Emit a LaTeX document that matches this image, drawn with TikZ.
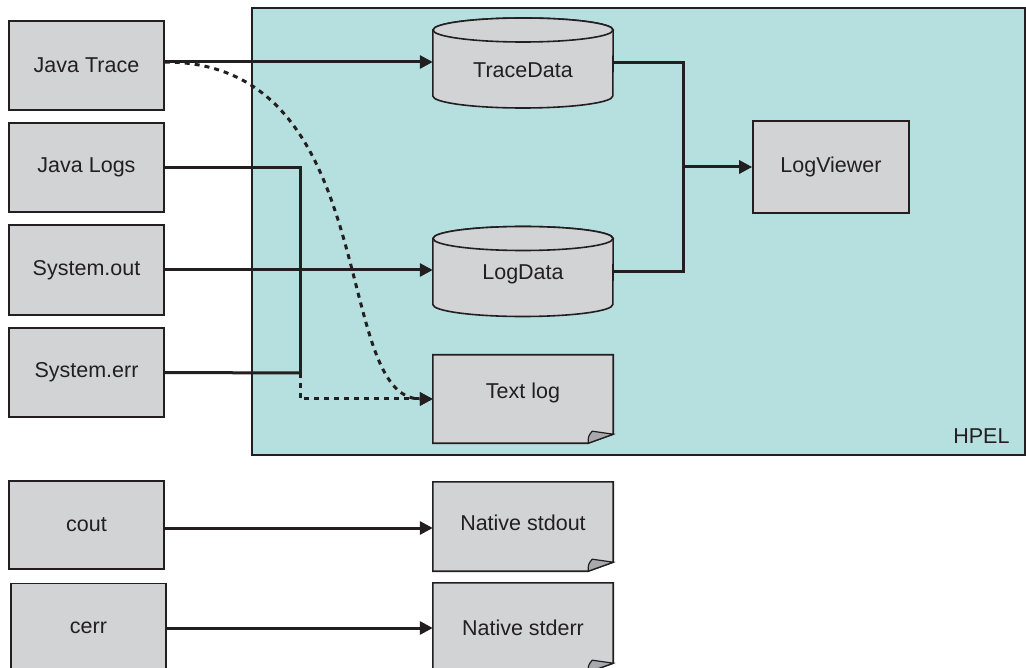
\documentclass[tikz,border=0pt]{standalone}
\usepackage{fontspec}
\setmainfont{Liberation Sans}
\usetikzlibrary{arrows.meta}
\definecolor{boxgray}{HTML}{D1D3D4}
\definecolor{foldgray}{HTML}{A7A9AC}
\definecolor{tealbg}{HTML}{B6DFDF}
\definecolor{ink}{HTML}{231F20}
\tikzset{
  lbl/.style={font=\fontsize{21.5}{24}\selectfont, text=ink},
  graybox/.style={lbl, draw=ink, fill=boxgray, line width=1.6pt, inner sep=0pt,
    minimum width=155pt, minimum height=89pt},
  holder/.style={lbl, inner sep=0pt, minimum width=180pt},
  wire/.style={draw=ink, line width=3pt},
  conn/.style={wire, -{Triangle[length=13pt,width=13pt]}},
  dashconn/.style={conn, dash pattern=on 5pt off 5pt},
  shapeline/.style={draw=ink, line width=1.6pt, fill=boxgray},
}
\newcommand\mycyl[1]{%
  \path[shapeline] ([yshift=33pt]#1.west) -- ([yshift=-33pt]#1.west)
     arc[start angle=180, end angle=0, x radius=90, y radius=12]
     -- ([yshift=33pt]#1.east)
     arc[start angle=0, end angle=-180, x radius=90, y radius=12] -- cycle;
  \path[shapeline] ([yshift=33pt]#1.center) ellipse [x radius=90, y radius=12];
}
\newcommand\mydoc[1]{%
  \path[shapeline] (#1.north west) -- (#1.north east) -- ([yshift=9pt]#1.south east)
     -- ([xshift=-25pt]#1.south east) -- (#1.south west) -- cycle;
  \path[shapeline, fill=foldgray, line width=1.2pt] ([xshift=-25pt]#1.south east)
     .. controls ([xshift=-25pt,yshift=7pt]#1.south east) .. ([xshift=-21pt,yshift=12pt]#1.south east)
     -- ([yshift=9pt]#1.south east) -- cycle;
}
\begin{document}
\begin{tikzpicture}[x=1pt,y=-1pt]
\useasboundingbox (0,0) rectangle (1026,668);
\clip (0,0) rectangle (1026,668);
\fill[white] (0,0) rectangle (1026,668);

% HPEL container
\node[draw=ink, fill=tealbg, line width=2.8pt, inner sep=0pt,
      minimum width=773pt, minimum height=447pt] (hpel) at (638.5,231.5) {};
\node[lbl] (hpellbl) at ([xshift=-45pt,yshift=20pt]hpel.south east) {HPEL};

% left sources
\node[graybox] (jt) at (86.5,65.5) {Java Trace};
\node[graybox] (jl) at (86.5,167.5) {Java Logs};
\node[graybox, minimum height=90pt] (so) at (86.5,270) {System.out};
\node[graybox] (se) at (86.5,372.5) {System.err};
\node[graybox, minimum height=88pt] (cout) at (86.5,525) {cout};
\node[graybox] (cerr) at (88.5,628) {cerr};

% cylinders
\node[holder, minimum height=90pt] (td) at (523,63) {};
\mycyl{td}
\node[lbl, yshift=-7pt] at (td.center) {TraceData};
\node[holder, minimum height=91pt] (ld) at (523,271.5) {};
\mycyl{ld}
\node[lbl, yshift=-2.5pt] at (ld.center) {LogData};

% documents
\node[holder, minimum height=88pt] (tl) at (523,399) {};
\mydoc{tl}
\node[lbl, yshift=6pt] at (tl.center) {Text log};
\node[holder, minimum height=89pt] (nso) at (523,526.5) {};
\mydoc{nso}
\node[lbl, yshift=3.5pt] at (nso.center) {Native stdout};
\node[holder, minimum height=89pt] (nse) at (523,627.5) {};
\mydoc{nse}
\node[lbl] at (nse.center) {Native stderr};

% viewer
\node[graybox, minimum width=156pt, minimum height=92pt] (lv) at (831,167) {LogViewer};

% junctions
\coordinate (j1) at (300,373);
\coordinate (m) at (683,167);

% connectors
\draw[conn] ([yshift=3.5pt]jt.east) -- ([yshift=3.5pt]jt.east -| td.west);
\draw[dashconn] ([yshift=3.5pt]jt.east) .. controls (385,62) and (330,399) .. (tl.west);
\draw[wire] (jl.east) -| (j1);
\draw[wire] (se.east) -- (j1);
\draw[dashconn] (j1) |- (tl.west);
\draw[conn] (so.east) -- (so.east -| ld.west);
\draw[wire] (td.east) -| (m);
\draw[wire] (ld.east) -| (m);
\draw[conn] (m) -- (lv.west);
\draw[conn] ([yshift=-3pt]cout.east) -- ([yshift=-3pt]cout.east -| nso.west);
\draw[conn] (cerr.east) -- (cerr.east -| nse.west);
\end{tikzpicture}
\end{document}
